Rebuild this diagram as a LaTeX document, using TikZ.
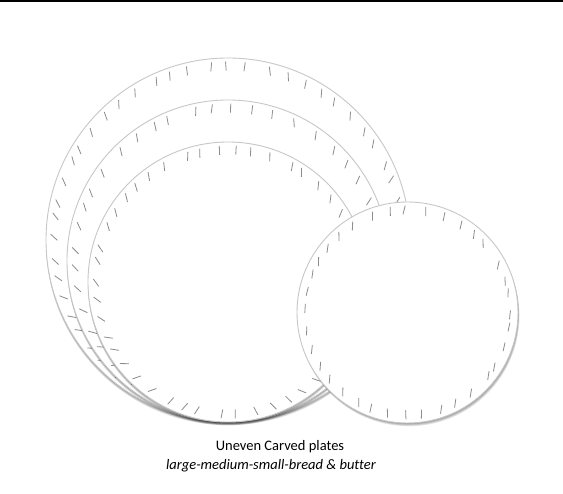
\documentclass[tikz,border=0pt]{standalone}
\usepackage{fontspec}
\setmainfont{Carlito}[Ligatures=NoCommon]
\begin{document}
\begin{tikzpicture}[x=1pt,y=1pt,
  rim/.style={draw=black!22, line width=0.9pt, fill=white},
  notch/.style={draw=black!45, line width=0.8pt},
  shadow/.style={fill=black, fill opacity=0.11},
  caption/.style={font=\fontsize{14.5}{17}\selectfont}]
  \useasboundingbox (0,0) rectangle (563,494);
  \pgfmathsetseed{42}
  % rule along the top edge
  \draw[line width=1.6pt] (0,493.2) -- (563,493.2);

  % plates: name/x/y/radius/notches/base angle/bend
  \foreach \name/\px/\py/\r/\n/\base/\k in {large/228/254/182/56/90/1,
      medium/228/233/161/45/90/1, small/228/212/140/46/90/1,
      bread/407.5/181.5/110.5/36/84/0} {
    \coordinate (\name) at (\px,\py);
    \pgfmathsetmacro\sx{0.35*(1-\k)}
    \pgfmathsetmacro\step{360/\n}
    \foreach \s in {1,2,3,4}
      \fill[shadow] (\name) ++(\sx*\s, -0.8*\s) circle[radius=\r];
    \draw[rim] (\name) circle[radius=\r];
    \pgfmathsetmacro\rr{\r-8}
    \foreach \i in {1,...,\n} {
      \pgfmathsetmacro\ang{\step*(\i+0.25*rand)}
      \pgfmathsetmacro\dev{mod(\ang+450,360)-180}
      \pgfmathsetmacro\tilt{\base+\k*(\dev/180)*abs(\dev)+9*rand}
      \draw[notch] (\name) ++(\ang:\rr) ++(\tilt:4.5) -- ++(\tilt:-9);
    }
  }

  \node[caption] (title) at (280,47) {Uneven Carved plates};
  \node[caption] (range) at (271,28) {\itshape large-medium-small-bread \& butter};
\end{tikzpicture}
\end{document}
